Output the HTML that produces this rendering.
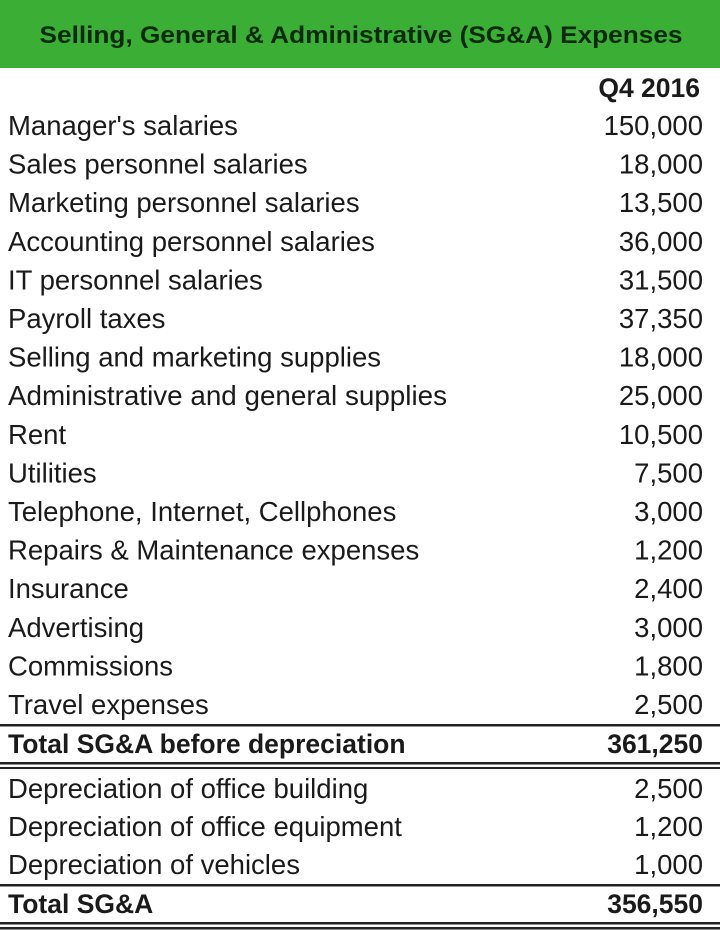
<!DOCTYPE html>
<html><head><meta charset="utf-8"><style>
html,body{margin:0;padding:0;background:#fff;}
svg{display:block}
text{font-family:"Liberation Sans",Arial,sans-serif;fill:#1a1a1a;font-size:27.5px}
.b{font-weight:bold;font-size:26.5px}
</style></head><body>
<svg width="720" height="931" viewBox="0 0 720 931">
<rect x="0" y="0" width="720" height="68" fill="#3aae35"/>
<text x="361" y="43" text-anchor="middle" style="font-weight:bold;font-size:24px;fill:#0b2a0b" textLength="643" lengthAdjust="spacingAndGlyphs">Selling, General &amp; Administrative (SG&amp;A) Expenses</text>
<text x="700" y="97" text-anchor="end" class="b">Q4 2016</text>
<g>
<text x="8" y="135">Manager's salaries</text><text x="703" y="135" text-anchor="end">150,000</text>
<text x="8" y="173.6">Sales personnel salaries</text><text x="703" y="173.6" text-anchor="end">18,000</text>
<text x="8" y="212.2">Marketing personnel salaries</text><text x="703" y="212.2" text-anchor="end">13,500</text>
<text x="8" y="250.8">Accounting personnel salaries</text><text x="703" y="250.8" text-anchor="end">36,000</text>
<text x="8" y="289.4">IT personnel salaries</text><text x="703" y="289.4" text-anchor="end">31,500</text>
<text x="8" y="328">Payroll taxes</text><text x="703" y="328" text-anchor="end">37,350</text>
<text x="8" y="366.6">Selling and marketing supplies</text><text x="703" y="366.6" text-anchor="end">18,000</text>
<text x="8" y="405.2" textLength="439" lengthAdjust="spacingAndGlyphs">Administrative and general supplies</text><text x="703" y="405.2" text-anchor="end">25,000</text>
<text x="8" y="443.8">Rent</text><text x="703" y="443.8" text-anchor="end">10,500</text>
<text x="8" y="482.4">Utilities</text><text x="703" y="482.4" text-anchor="end">7,500</text>
<text x="8" y="521">Telephone, Internet, Cellphones</text><text x="703" y="521" text-anchor="end">3,000</text>
<text x="8" y="559.6">Repairs &amp; Maintenance expenses</text><text x="703" y="559.6" text-anchor="end">1,200</text>
<text x="8" y="598.2">Insurance</text><text x="703" y="598.2" text-anchor="end">2,400</text>
<text x="8" y="636.8">Advertising</text><text x="703" y="636.8" text-anchor="end">3,000</text>
<text x="8" y="675.4">Commissions</text><text x="703" y="675.4" text-anchor="end">1,800</text>
<text x="8" y="714">Travel expenses</text><text x="703" y="714" text-anchor="end">2,500</text>
</g>
<rect x="0" y="724" width="720" height="2.5" fill="#222"/>
<text x="8" y="753" class="b">Total SG&amp;A before depreciation</text><text x="703" y="753" text-anchor="end" class="b">361,250</text>
<rect x="0" y="762" width="720" height="2.5" fill="#222"/>
<rect x="0" y="767" width="720" height="2" fill="#222"/>
<text x="8" y="798">Depreciation of office building</text><text x="703" y="798" text-anchor="end">2,500</text>
<text x="8" y="836">Depreciation of office equipment</text><text x="703" y="836" text-anchor="end">1,200</text>
<text x="8" y="874">Depreciation of vehicles</text><text x="703" y="874" text-anchor="end">1,000</text>
<rect x="0" y="884" width="720" height="2.5" fill="#222"/>
<text x="8" y="913" class="b">Total SG&amp;A</text><text x="703" y="913" text-anchor="end" class="b">356,550</text>
<rect x="0" y="922" width="720" height="2.5" fill="#222"/>
<rect x="0" y="927" width="720" height="2.5" fill="#222"/>
</svg>
</body></html>
